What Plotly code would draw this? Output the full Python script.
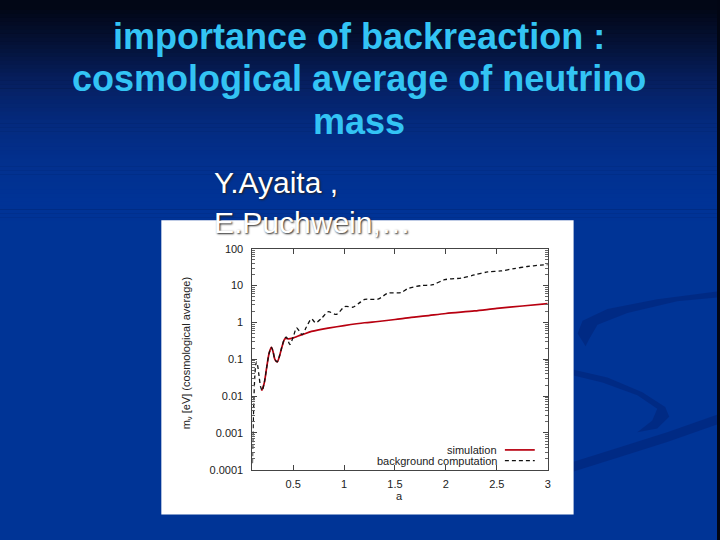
import plotly.graph_objects as go

# ---------------- data ----------------
sim_a = [0.19, 0.215, 0.24, 0.265, 0.287, 0.305, 0.32, 0.343, 0.365, 0.39, 0.418, 0.434,
         0.45, 0.50, 0.55, 0.60, 0.68, 0.75, 0.843, 1.0, 1.2, 1.333, 1.5, 1.66, 1.8,
         2.0, 2.28, 2.5, 2.75, 3.0]
sim_m = [0.014, 0.022, 0.06, 0.15, 0.21, 0.15, 0.10, 0.085, 0.12, 0.22, 0.36, 0.37,
         0.36, 0.38, 0.43, 0.48, 0.57, 0.63, 0.70, 0.82, 0.98, 1.06, 1.2, 1.37, 1.5,
         1.75, 2.05, 2.4, 2.8, 3.25]

bg_a = [0.100, 0.105, 0.112, 0.122, 0.132, 0.140, 0.150, 0.165, 0.180, 0.196, 0.215, 0.240,
        0.265, 0.287, 0.305, 0.320, 0.343, 0.365, 0.390, 0.418, 0.434, 0.450, 0.467, 0.50,
        0.533, 0.56, 0.589, 0.63, 0.68, 0.72, 0.78, 0.843, 0.925, 1.007, 1.088, 1.15,
        1.203, 1.333, 1.43, 1.56, 1.627, 1.758, 1.873, 1.987, 2.15, 2.28, 2.41, 2.54,
        2.67, 2.80, 2.93, 3.0]
bg_m = [0.00015, 0.0008, 0.005, 0.03, 0.07, 0.085, 0.07, 0.035, 0.018, 0.014, 0.022, 0.06,
        0.15, 0.21, 0.15, 0.10, 0.085, 0.12, 0.22, 0.38, 0.40, 0.32, 0.25, 0.40,
        0.71, 0.58, 0.47, 0.75, 1.25, 0.98, 1.3, 1.95, 1.66, 2.7, 2.6, 3.4,
        4.2, 4.3, 6.2, 6.5, 8.3, 10.0, 10.6, 14.5, 16.0, 19.5, 23.5, 25,
        29, 33, 36, 37]

x_ticks = [0.5, 1, 1.5, 2, 2.5, 3]
x_labels = ["0.5", "1", "1.5", "2", "2.5", "3"]
y_ticks = [0.0001, 0.001, 0.01, 0.1, 1, 10, 100]
y_labels = ["0.0001", "0.001", "0.01", "0.1", "1", "10", "100"]
y_minor = [m * 10.0 ** k for k in range(-4, 2) for m in range(2, 10)]

title_lines = ["importance of backreaction :", "cosmological average of neutrino", "mass"]
author_lines = ["Y.Ayaita ,", "E.Puchwein,…"]
series_names = ["simulation", "background computation"]

# ---------------- helpers ----------------
W, H = 720, 540
def px(x):
    return x / W
def py(y):
    return 1 - y / H

FONT = "Liberation Sans, Arial, sans-serif"

fig = go.Figure()
fig.add_trace(go.Scatter(x=sim_a, y=sim_m, mode="lines", name=series_names[0],
                         line=dict(color="#b80010", width=1.7, shape="spline", smoothing=0.8),
                         showlegend=False))
fig.add_trace(go.Scatter(x=bg_a, y=bg_m, mode="lines", name=series_names[1],
                         line=dict(color="#111111", width=1.3, dash="4px,3px", shape="spline", smoothing=0.8),
                         showlegend=False))

# ---------------- background ----------------
shapes = []
stops = [(0, (2, 6, 20)), (40, (4, 18, 56)), (80, (6, 32, 98)), (120, (4, 42, 126)),
         (160, (2, 48, 142)), (200, (0, 51, 150)), (540, (0, 52, 150))]
def col_at(y):
    for (y0, c0), (y1, c1) in zip(stops[:-1], stops[1:]):
        if y0 <= y <= y1:
            t = (y - y0) / (y1 - y0)
            return tuple(round(c0[i] + t * (c1[i] - c0[i])) for i in range(3))
    return stops[-1][1]
step = 4
for y in range(0, 220, step):
    c = col_at(y + step / 2)
    shapes.append(dict(type="rect", xref="paper", yref="paper", x0=0, x1=1,
                       y0=py(y + step + 0.5), y1=py(y) + 0.02 * (y == 0), line=dict(width=0),
                       fillcolor="rgb(%d,%d,%d)" % c, layer="below"))
shapes.append(dict(type="rect", xref="paper", yref="paper", x0=0, x1=1,
                   y0=-0.02, y1=py(219), line=dict(width=0),
                   fillcolor="rgb(0,52,150)", layer="below"))

def path_from(pts):
    s = "M %f,%f" % (px(pts[0][0]), py(pts[0][1]))
    for (x, y) in pts[1:]:
        s += " L %f,%f" % (px(x), py(y))
    return s + " Z"

swoosh = "rgba(0,30,110,0.45)"
shapes.append(dict(type="path", xref="paper", yref="paper", layer="below",
                   path=path_from([(720, 292), (660, 300), (610, 310), (585, 322), (580, 335),
                                   (588, 348), (592, 340), (600, 326), (630, 314), (680, 302), (720, 298)]),
                   fillcolor=swoosh, line=dict(width=0)))
shapes.append(dict(type="path", xref="paper", yref="paper", layer="below",
                   path=path_from([(576, 372), (610, 380), (645, 395), (668, 410), (672, 420),
                                   (660, 432), (640, 436), (655, 424), (660, 412), (640, 398),
                                   (605, 385), (576, 378)]),
                   fillcolor=swoosh, line=dict(width=0)))
shapes.append(dict(type="path", xref="paper", yref="paper", layer="below",
                   path=path_from([(576, 466), (620, 452), (670, 436), (720, 418), (720, 428),
                                   (670, 446), (620, 462), (576, 476)]),
                   fillcolor=swoosh, line=dict(width=0)))

# white chart box
shapes.append(dict(type="rect", xref="paper", yref="paper", x0=px(162), x1=px(576),
                   y0=py(520), y1=py(219), line=dict(width=0), fillcolor="white", layer="below"))

# legend samples
shapes.append(dict(type="line", xref="paper", yref="paper", x0=px(507), x1=px(537),
                   y0=py(454), y1=py(454), line=dict(color="#b80010", width=1.7)))
shapes.append(dict(type="line", xref="paper", yref="paper", x0=px(507), x1=px(537),
                   y0=py(465), y1=py(465), line=dict(color="#111111", width=1.3, dash="4px,3px")))

# ---------------- annotations ----------------
ann = []
for i, (t, yc) in enumerate(zip(title_lines, [31, 74, 118])):
    ann.append(dict(text="<b>%s</b>" % t, xref="paper", yref="paper", x=0.5, y=py(yc),
                    xanchor="center", yanchor="middle", showarrow=False,
                    font=dict(family=FONT, size=36, color="#33c4f4")))
for t, yc in zip(author_lines, [181, 221]):
    ann.append(dict(text=t, xref="paper", yref="paper", x=px(213), y=py(yc),
                    xanchor="left", yanchor="middle", showarrow=False,
                    font=dict(family=FONT, size=30, color="white", shadow="1px 1px 2px #222")))
ann.append(dict(text="m<sub>ν</sub> [eV] (cosmological average)", xref="paper", yref="paper",
                x=px(188), y=py(355), textangle=-90, xanchor="center", yanchor="middle",
                showarrow=False, font=dict(family=FONT, size=11, color="#222")))
ann.append(dict(text="a", xref="paper", yref="paper", x=px(401), y=py(501),
                xanchor="center", yanchor="middle", showarrow=False,
                font=dict(family=FONT, size=11, color="#222")))
for t, yc in zip(series_names, [454, 465]):
    ann.append(dict(text=t, xref="paper", yref="paper", x=px(501), y=py(yc),
                    xanchor="right", yanchor="middle", showarrow=False,
                    font=dict(family=FONT, size=11, color="#222")))

fig.update_layout(
    width=W, height=H, margin=dict(l=0, r=0, t=0, b=0, pad=0),
    paper_bgcolor="rgb(2,6,20)", plot_bgcolor="white",
    shapes=shapes, annotations=ann, showlegend=False,
    xaxis=dict(domain=[px(253.5), px(550)], range=[0.1, 3], tickvals=x_ticks, ticktext=x_labels,
               ticks="inside", ticklen=5, tickcolor="#444", showline=True, linecolor="#444",
               linewidth=1, mirror="ticks", showgrid=False, zeroline=False,
               tickfont=dict(family=FONT, size=11, color="#222"), ticklabelstandoff=4),
    yaxis=dict(domain=[py(474.3), py(248.3)], type="log", range=[-4, 2], tickvals=y_ticks,
               ticktext=y_labels, ticks="inside", ticklen=5, tickcolor="#444", showline=True,
               linecolor="#444", linewidth=1, mirror="ticks", showgrid=False, zeroline=False,
               tickfont=dict(family=FONT, size=11, color="#222"), ticklabelstandoff=6,
               minor=dict(tickvals=y_minor, ticks="inside", ticklen=3, tickcolor="#666", showgrid=False)),
)

fig.write_html("out.html", config={"displayModeBar": False},
               post_script="document.body.style.margin='0';document.body.style.overflow='hidden';"
                           "document.documentElement.style.overflow='hidden';")
